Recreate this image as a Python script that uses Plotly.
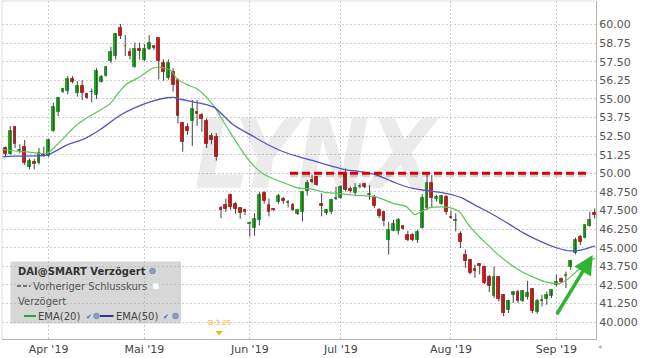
import plotly.graph_objects as go

# ---------------- data ----------------
opens = [51.70, 51.30, 53.11, 51.52, 51.79, 50.45, 50.74, 50.71, 51.32, 51.16,
         52.87, 54.12, 55.49, 55.55, 56.34, 55.42, 55.87, 55.31, 55.46, 55.27,
         56.16, 56.56, 57.55, 57.89, 59.79, 58.55, 58.14, 57.17, 58.36, 57.62,
         58.34, 58.55, 59.07, 57.40, 56.39, 56.84, 56.27, 53.36, 53.13, 53.54,
         54.10, 53.92, 53.54, 52.48, 52.44, 47.69, 47.87, 48.54, 47.92, 47.65,
         47.53, 46.57, 46.30, 46.86, 48.70, 47.87, 47.60, 48.10, 48.25, 48.00,
         47.87, 47.26, 47.42, 48.83, 49.55, 49.73, 47.92, 47.32, 47.37, 48.26,
         48.33, 50.00, 48.93, 48.66, 49.08, 49.26, 48.55, 48.44, 47.54, 47.43,
         45.54, 46.14, 46.10, 46.43, 45.87, 45.87, 45.54, 46.32, 47.66, 49.33,
         48.26, 47.95, 48.39, 47.08, 46.76, 45.94, 44.53, 44.20, 43.57, 43.90,
         43.73, 43.06, 41.72, 43.06, 41.79, 40.83, 41.79, 42.05, 41.43, 41.65,
         42.23, 40.67, 41.38, 41.56, 41.72, 42.50, 42.90, 43.10, 43.73, 44.62,
         45.74, 45.67, 46.47, 47.30]
highs = [51.80, 53.18, 53.18, 51.95, 52.24, 51.00, 50.97, 51.70, 51.80, 52.30,
         54.74, 55.15, 55.75, 56.54, 56.54, 56.20, 56.27, 55.42, 55.71, 57.06,
         56.60, 57.20, 58.51, 59.42, 60.04, 59.30, 58.40, 58.79, 58.79, 58.70,
         59.30, 58.60, 59.07, 57.66, 57.66, 57.06, 56.39, 53.47, 53.36, 54.93,
         54.93, 54.05, 53.70, 52.70, 52.70, 47.80, 48.30, 48.65, 48.06, 47.72,
         47.62, 46.75, 47.30, 48.75, 48.80, 48.30, 47.66, 48.60, 48.40, 48.20,
         48.00, 47.60, 48.82, 49.55, 49.89, 49.80, 48.66, 47.60, 48.30, 49.10,
         49.20, 50.33, 49.10, 49.33, 49.33, 49.33, 49.22, 48.55, 47.66, 47.48,
         46.72, 46.87, 46.99, 46.48, 46.14, 45.98, 46.21, 48.60, 50.00, 49.89,
         48.55, 48.55, 48.55, 47.48, 47.32, 46.09, 44.87, 44.25, 43.86, 43.95,
         43.80, 43.17, 43.73, 43.10, 41.83, 41.50, 42.05, 42.16, 42.16, 42.77,
         42.28, 41.56, 41.83, 42.05, 42.16, 43.17, 42.99, 43.39, 44.18, 45.67,
         45.85, 46.56, 47.41, 47.63]
lows = [51.12, 51.25, 51.70, 51.35, 50.56, 50.27, 50.27, 50.60, 51.10, 51.10,
        52.80, 53.85, 55.40, 55.31, 56.05, 55.15, 54.93, 55.00, 54.77, 55.00,
        56.10, 56.50, 57.40, 57.66, 59.03, 57.89, 57.66, 57.10, 57.66, 57.55,
        58.29, 58.29, 56.32, 56.23, 56.30, 55.49, 53.35, 51.45, 52.60, 51.84,
        53.20, 52.80, 51.70, 51.95, 50.85, 46.97, 47.40, 47.55, 47.28, 46.94,
        47.20, 45.74, 45.80, 46.50, 47.95, 47.10, 47.45, 47.95, 47.95, 47.70,
        47.45, 47.20, 46.76, 48.50, 49.33, 49.15, 47.10, 47.20, 47.25, 48.20,
        48.28, 48.77, 48.70, 48.45, 48.99, 48.99, 48.21, 47.66, 46.99, 46.43,
        44.53, 46.10, 45.88, 46.20, 45.43, 45.43, 45.32, 46.28, 47.54, 47.66,
        48.10, 47.88, 47.21, 46.94, 46.09, 44.98, 43.64, 43.20, 42.97, 43.20,
        42.55, 42.01, 41.61, 41.38, 40.38, 40.60, 41.28, 41.28, 41.35, 41.50,
        40.60, 40.55, 41.05, 41.16, 41.61, 42.39, 42.61, 42.28, 43.50, 44.55,
        45.17, 45.62, 46.41, 46.96]
closes = [51.30, 52.84, 51.97, 51.60, 50.71, 50.85, 50.61, 51.34, 51.25, 52.24,
          54.48, 55.04, 55.67, 56.34, 56.12, 55.87, 55.38, 55.08, 55.50, 56.90,
          56.50, 57.17, 58.14, 59.35, 59.25, 58.55, 57.91, 58.36, 58.25, 58.36,
          58.74, 58.44, 57.55, 56.84, 57.40, 55.94, 53.85, 52.13, 52.87, 54.30,
          53.99, 53.63, 51.97, 52.26, 51.12, 47.53, 47.58, 47.71, 47.60, 47.31,
          47.40, 46.64, 46.90, 48.54, 48.16, 47.42, 47.52, 48.50, 48.16, 48.07,
          47.56, 47.50, 48.77, 49.33, 49.44, 49.22, 47.81, 47.54, 48.21, 48.35,
          49.10, 48.88, 48.82, 49.00, 49.17, 49.08, 48.60, 47.77, 47.10, 46.76,
          46.16, 46.59, 46.83, 46.25, 45.54, 45.50, 46.05, 48.33, 49.33, 48.37,
          48.39, 48.48, 47.43, 46.99, 46.85, 45.36, 44.08, 43.30, 43.42, 43.80,
          42.61, 42.39, 43.06, 41.56, 40.60, 41.38, 41.99, 41.43, 42.10, 41.94,
          40.71, 41.38, 41.45, 41.83, 42.12, 42.68, 42.68, 43.17, 44.11, 45.51,
          45.40, 46.52, 46.83, 47.19]

# EMA lines (trading-day index, value)
ema20_x = [-0.7, 2, 5, 8.7, 10.7, 12.8, 14.5, 17.6, 19.8, 21.9, 23.3, 25.3, 28.1, 30.6, 32.3,
           34.4, 35.8, 37.8, 39.9, 42, 44, 45, 47, 49, 51, 53.8, 56.6, 59.4, 61.1, 63.9,
           66.7, 69.4, 72.2, 75, 77.1, 79.2, 80.9, 83.7, 85.4, 86.8, 88.5, 91.3, 92.7, 94.8,
           96.5, 99, 101, 102.6, 104.5, 106.2, 108.3, 110.3, 112.5, 114.5, 115.6, 116.6,
           117.7, 118.7, 120.5, 122.6, 123.1]
ema20_y = [51.6, 51.5, 51.42, 51.35, 51.9, 52.6, 53.15, 53.85, 54.25, 54.7, 55.3, 56.0, 56.5, 57.05, 57.13,
           56.95, 56.35, 55.98, 55.7, 55.1, 54.3, 53.75, 52.7, 51.7, 50.8, 49.95, 49.55, 49.2, 49.0, 48.94,
           48.72, 48.65, 48.54, 48.49, 48.43, 48.2, 47.98, 47.76, 47.22, 47.42, 47.68, 47.74, 47.69, 47.42,
           46.6, 45.7, 45.1, 44.6, 44.1, 43.7, 43.3, 43.0, 42.72, 42.6, 42.6, 42.72,
           42.95, 43.25, 43.75, 44.22, 44.3]
ema50_x = [-0.7, 1.7, 5.9, 8.7, 12.8, 16.3, 19.8, 24, 26.7, 30.2, 33.7, 35.1, 36.5, 39.2, 42,
           43.75, 47.6, 51, 54.5, 58, 61.5, 64.9, 68.4, 70.5, 74, 77.4, 80, 81.6, 85, 88.5,
           92, 95.5, 98, 101.4, 104.9, 108.3, 111.8, 115.3, 118, 120.1, 122.6, 123.1]
ema50_y = [51.1, 51.15, 51.17, 51.22, 51.9, 52.3, 52.95, 53.92, 54.37, 54.81, 55.08, 55.1, 54.98, 54.81, 54.62,
           54.4, 53.25, 52.62, 51.97, 51.45, 51.08, 50.78, 50.45, 50.27, 50.11, 49.9, 49.55, 49.33, 48.98, 48.81,
           48.65, 48.32, 47.86, 47.3, 46.63, 45.96, 45.4, 44.96, 44.78, 44.84, 45.07, 45.1]

# month ticks (index of first trading day of month)
month_idx = [9, 29, 51, 70, 93, 115]
month_labels = ["Apr '19", "Mai '19", "Jun '19", "Jul '19", "Aug '19", "Sep '19"]

ytick_vals = [40.0, 41.25, 42.5, 43.75, 45.0, 46.25, 47.5, 48.75, 50.0,
              51.25, 52.5, 53.75, 55.0, 56.25, 57.5, 58.75, 60.0]
ytick_text = ["40.000", "41.250", "42.500", "43.750", "45.000", "46.250", "47.500", "48.750", "50.00",
              "51.25", "52.50", "53.75", "55.00", "56.25", "57.50", "58.75", "60.00"]

resistance_level = 50.0
resistance_span = [59.4, 122.0]
arrow_tail = (114.9, 40.42)
arrow_tip = (122.6, 44.5)
dividend_label = "D 3.25"
dividend_x = 44.6

# ---------------- helpers for pixel placement of decorations ----------------
W, H = 645, 358
PL, PR, PT, PB = 2, 596, 1, 339


def fx(p):
    return (p - PL) / (PR - PL)


def fy(p):
    return (PB - p) / (PB - PT)


X_RANGE = [-0.73, 123.28]
Y_RANGE = [38.857, 61.587]

GREEN = '#22a722'
RED = '#d91c1c'
FLAT = '#f0c020'

idx = list(range(len(opens)))
colors = [GREEN if c > o else (RED if c < o else FLAT) for o, c in zip(opens, closes)]
body_base = [min(o, c) for o, c in zip(opens, closes)]
body_h = [abs(c - o) for o, c in zip(opens, closes)]

wx, wy = [], []
for i, lo, hi in zip(idx, lows, highs):
    wx += [i, i, None]
    wy += [lo, hi, None]

fig = go.Figure()

# watermark
fig.add_trace(go.Scatter(
    x=[64.6], y=[50.6], mode='text', text=['LYNX'],
    textfont=dict(family='Liberation Sans Narrow, DejaVu Sans Condensed, Liberation Sans, sans-serif',
                  size=96, color='rgba(0,0,0,0.08)', weight='bold', style='italic'),
    hoverinfo='skip'))

# wicks
fig.add_trace(go.Scatter(x=wx, y=wy, mode='lines', line=dict(color='#444444', width=1),
                         hoverinfo='skip'))
# bodies
fig.add_trace(go.Bar(x=idx, y=body_h, base=body_base, width=0.58,
                     marker=dict(color=colors, line=dict(color=colors, width=1)),
                     hoverinfo='skip'))

# EMAs
fig.add_trace(go.Scatter(x=ema20_x, y=ema20_y, mode='lines',
                         line=dict(color='#5cc45c', width=1.2, shape='spline', smoothing=0.6),
                         hoverinfo='skip'))
fig.add_trace(go.Scatter(x=ema50_x, y=ema50_y, mode='lines',
                         line=dict(color='#5454c4', width=1.3, shape='spline', smoothing=0.6),
                         hoverinfo='skip'))

# resistance line with shadow
fig.add_trace(go.Scatter(x=resistance_span, y=[resistance_level - 0.1] * 2, mode='lines',
                         line=dict(color='rgba(0,0,0,0.16)', width=5, dash='8px,4px'),
                         hoverinfo='skip'))
fig.add_trace(go.Scatter(x=resistance_span, y=[resistance_level] * 2, mode='lines',
                         line=dict(color='#dd0000', width=3, dash='8px,4px'),
                         hoverinfo='skip'))

# dividend marker
fig.add_trace(go.Scatter(x=[dividend_x], y=[39.3], mode='markers',
                         marker=dict(symbol='triangle-down', size=6, color='#f2b600'),
                         hoverinfo='skip'))

shapes = []
# frame top / left
shapes.append(dict(type='line', xref='paper', yref='paper', x0=0, x1=1, y0=1, y1=1,
                   line=dict(color='#dcdcdc', width=1)))
shapes.append(dict(type='line', xref='paper', yref='paper', x0=0, x1=0, y0=0, y1=1,
                   line=dict(color='#dcdcdc', width=1)))
# legend box
shapes.append(dict(type='rect', xref='paper', yref='paper', x0=fx(10.5), x1=fx(181), y0=fy(323.5), y1=fy(261.5),
                   fillcolor='rgba(175,175,175,0.5)', line=dict(width=0), layer='above'))
# dashed icon
shapes.append(dict(type='line', xref='paper', yref='paper', x0=fx(17), x1=fx(30.5), y0=fy(286), y1=fy(286),
                   line=dict(color='#555', width=1.5, dash='4px,2px'), layer='above'))
# white square
shapes.append(dict(type='rect', xref='paper', yref='paper', x0=fx(153), x1=fx(158.5), y0=fy(289), y1=fy(283.5),
                   fillcolor='white', line=dict(color='#e6e6e6', width=0.5), layer='above'))
# EMA icons
shapes.append(dict(type='line', xref='paper', yref='paper', x0=fx(24), x1=fx(36), y0=fy(316), y1=fy(316),
                   line=dict(color='#2ea52e', width=2), layer='above'))
shapes.append(dict(type='line', xref='paper', yref='paper', x0=fx(100), x1=fx(113.5), y0=fy(316), y1=fy(316),
                   line=dict(color='#3030a8', width=2), layer='above'))
# gear-like small circles
for cx, cy in [(152.5, 271), (96.5, 316), (175.5, 316)]:
    shapes.append(dict(type='circle', xref='paper', yref='paper', x0=fx(cx - 3), x1=fx(cx + 3),
                       y0=fy(cy + 3), y1=fy(cy - 3), fillcolor='#8a9dbb', line=dict(color='#6d80a0', width=0.5),
                       layer='above'))

fnt = 'DejaVu Sans, Verdana, sans-serif'
ann = []


def txt(x, y, s, size=10, color='#555', anchor='left'):
    ann.append(dict(xref='paper', yref='paper', x=fx(x), y=fy(y), text=s, showarrow=False,
                    xanchor=anchor, yanchor='middle', font=dict(family=fnt, size=size, color=color)))


txt(15.5, 271, '<b>DAI@SMART Verzögert</b>', 10, '#333')
txt(31, 286, 'Vorheriger Schlusskurs', 10, '#555')
txt(15.5, 301.5, 'Verzögert', 10, '#555')
txt(36, 316, 'EMA(20)', 10, '#444')
txt(113.5, 316, 'EMA(50)', 10, '#444')
txt(88.5, 317, '✔', 7, '#3b6fd1', 'center')
txt(166, 317, '✔', 7, '#3b6fd1', 'center')
txt(219, 323, dividend_label, 7, '#f0b400', 'center')
txt(600, 349, '*', 9, '#999', 'center')

# green arrow
ann.append(dict(x=arrow_tip[0], y=arrow_tip[1], ax=arrow_tail[0], ay=arrow_tail[1],
                xref='x', yref='y', axref='x', ayref='y', showarrow=True, text='',
                arrowhead=2, arrowsize=1.1, arrowwidth=3.5, arrowcolor='#2fb52f'))

fig.update_layout(
    width=W, height=H, margin=dict(l=PL, r=W - PR, t=PT, b=H - PB),
    paper_bgcolor='white', plot_bgcolor='white', showlegend=False,
    font=dict(family=fnt, size=11, color='#555'),
    xaxis=dict(range=X_RANGE, tickvals=month_idx, ticktext=month_labels, showgrid=True,
               gridcolor='#cdcdcd', griddash='2px,2px', gridwidth=1, showline=True, linecolor='#b4b4b4',
               ticks='', zeroline=False, tickfont=dict(size=11, color='#444', family=fnt), fixedrange=True),
    yaxis=dict(side='right', range=Y_RANGE, tickvals=ytick_vals, ticktext=ytick_text, showgrid=True,
               gridcolor='#cdcdcd', griddash='2px,2px', gridwidth=1, showline=True, linecolor='#b4b4b4',
               ticks='', zeroline=False, tickfont=dict(size=11, color='#555', family=fnt), fixedrange=True),
    shapes=shapes, annotations=ann, bargap=0,
)

fig.write_html('out.html', config={'displayModeBar': False},
               post_script="document.body.style.margin='0';document.body.style.overflow='hidden';")
